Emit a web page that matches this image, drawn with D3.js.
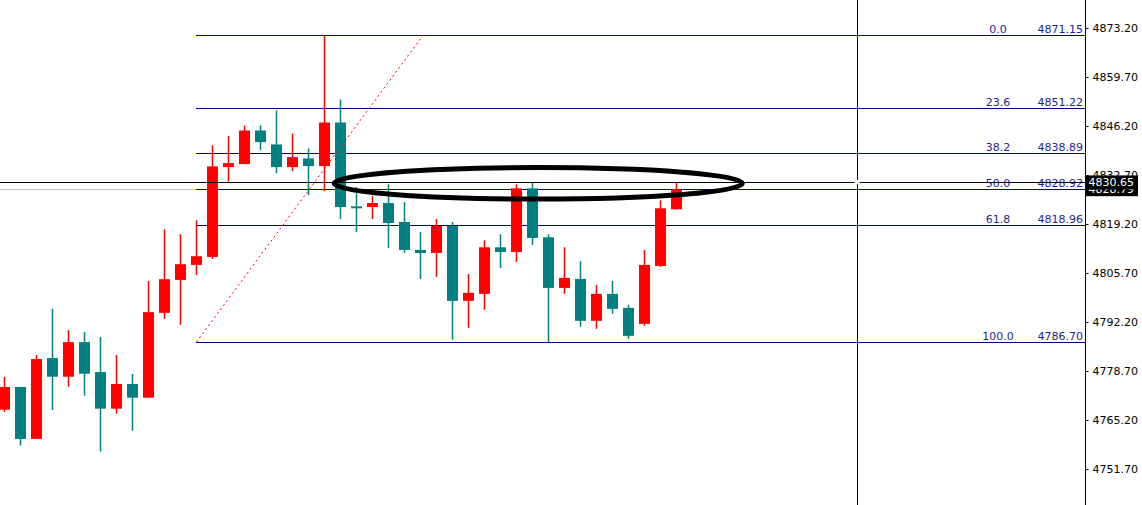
<!DOCTYPE html>
<html>
<head>
<meta charset="utf-8">
<script src="https://cdn.jsdelivr.net/npm/d3@7"></script>
<style>
  body { margin: 0; background: #fff; }
  text { font-family: "DejaVu Sans", Verdana, sans-serif; font-size: 11px; }
</style>
</head>
<body>
<div id="chart"></div>
<script>
// set parameters for SVG
var svgWidth = 1142;
var svgHeight = 505;
var axisX = 1085.5;

// candle data
var opens  = [4768.06, 4774.30, 4760.00, 4782.27, 4777.13, 4786.67, 4778.42, 4768.33, 4775.13, 4771.36,
              4794.73, 4803.80, 4807.93, 4810.13, 4834.87, 4835.70, 4844.96, 4841.11, 4834.87, 4837.26,
              4835.15, 4847.16, 4824.07, 4823.87, 4824.97, 4819.75, 4812.05, 4811.23, 4818.65, 4798.03,
              4799.95, 4812.79, 4811.50, 4829.02, 4815.54, 4801.60, 4804.08, 4792.53, 4799.95, 4796.10,
              4791.70, 4807.65, 4823.24];
var highs  = [4777.05, 4774.30, 4783.10, 4795.83, 4789.97, 4789.42, 4788.05, 4783.10, 4777.87, 4803.45,
              4817.74, 4816.37, 4820.22, 4840.84, 4843.40, 4846.34, 4846.34, 4850.46, 4844.14, 4840.01,
              4871.15, 4853.49, 4829.37, 4826.90, 4830.20, 4825.25, 4817.00, 4820.57, 4819.75, 4805.45,
              4814.72, 4816.37, 4830.12, 4830.67, 4816.37, 4812.79, 4808.94, 4802.43, 4803.53, 4796.93,
              4812.05, 4825.72, 4830.67];
var lows   = [4767.43, 4758.16, 4760.00, 4767.98, 4774.38, 4771.91, 4756.51, 4766.96, 4762.28, 4771.36,
              4793.08, 4791.43, 4805.18, 4809.58, 4830.86, 4835.70, 4839.55, 4833.22, 4833.77, 4827.17,
              4828.27, 4820.57, 4817.00, 4820.57, 4812.60, 4811.23, 4804.08, 4804.63, 4787.31, 4790.61,
              4795.55, 4807.10, 4808.75, 4813.43, 4786.70, 4799.95, 4790.88, 4790.33, 4794.45, 4787.58,
              4791.15, 4807.38, 4823.24];
var closes = [4774.30, 4760.00, 4782.00, 4777.13, 4786.67, 4777.96, 4768.33, 4775.13, 4771.36, 4794.92,
              4804.00, 4808.12, 4810.32, 4835.06, 4835.97, 4844.96, 4841.75, 4834.87, 4837.62, 4835.15,
              4847.16, 4823.87, 4823.79, 4824.97, 4819.48, 4812.05, 4811.23, 4818.65, 4798.03, 4800.23,
              4812.79, 4811.50, 4829.02, 4815.35, 4801.60, 4804.35, 4792.53, 4799.95, 4795.83, 4788.40,
              4807.93, 4823.52, 4828.79];

// fibonacci levels
var fibLevels = ["0.0", "23.6", "38.2", "50.0", "61.8", "100.0"];
var fibValues = [4871.15, 4851.22, 4838.89, 4828.92, 4818.96, 4786.70];
var fibStart = 12;
var fibEnd = 26.16;

// price axis ticks
var yTicks = [4873.20, 4859.70, 4846.20, 4832.70, 4819.20, 4805.70, 4792.20, 4778.70, 4765.20, 4751.70];

// bid line, crosshair and the hand drawn ellipse
var bidPrice = 4828.79;
var crossIndex = 53.3;
var crossPrice = 4830.65;
var ellipseIndex = 33.36, ellipsePrice = 4830.41, ellipseSpanIdx = 12.76, ellipseSpanPrice = 4.35;

var candles = opens.map(function(o, i) {
  return { i: i, open: o, high: highs[i], low: lows[i], close: closes[i] };
});

var svg = d3.select("#chart")
  .append("svg")
  .attr("width", svgWidth)
  .attr("height", svgHeight);

svg.append("rect")
  .attr("width", svgWidth)
  .attr("height", svgHeight)
  .attr("fill", "#fff");

// scales
var xScale = d3.scaleLinear().domain([0, 1]).range([4.5, 20.5]);
var yScale = d3.scaleLinear().domain([4741.8, 4880.9]).range([svgHeight, 0]);

// bid line (grey)
svg.append("line")
  .attr("x1", 0).attr("x2", axisX)
  .attr("y1", Math.round(yScale(bidPrice)) + 0.5)
  .attr("y2", Math.round(yScale(bidPrice)) + 0.5)
  .attr("stroke", "#c0c0c0");

// fib lines
var fibGroup = svg.append("g");
fibValues.forEach(function(v, i) {
  var y = Math.round(yScale(v)) + 0.5;
  fibGroup.append("line")
    .attr("x1", Math.floor(xScale(fibStart))).attr("x2", axisX)
    .attr("y1", y).attr("y2", y)
    .attr("stroke", "#000080");
  fibGroup.append("text")
    .attr("x", 998).attr("y", y - 3)
    .attr("text-anchor", "middle")
    .attr("fill", "#1e1e9a")
    .text(fibLevels[i]);
  fibGroup.append("text")
    .attr("x", 1083).attr("y", y - 3)
    .attr("text-anchor", "end")
    .attr("fill", "#1e1e9a")
    .text(d3.format(".2f")(v));
});

// candles
var cGroup = svg.selectAll(".candle")
  .data(candles)
  .enter()
  .append("g")
  .classed("candle", true);

cGroup.append("rect")
  .attr("x", d => xScale(d.i) - 0.75)
  .attr("width", 1.5)
  .attr("y", d => yScale(d.high))
  .attr("height", d => Math.max(1, yScale(d.low) - yScale(d.high)))
  .attr("fill", d => d.close >= d.open ? "#ff0000" : "#008080");

cGroup.append("rect")
  .attr("x", d => xScale(d.i) - 5.5)
  .attr("width", 11)
  .attr("y", d => yScale(Math.max(d.open, d.close)))
  .attr("height", d => Math.max(2, Math.abs(yScale(d.open) - yScale(d.close))))
  .attr("fill", d => d.close >= d.open ? "#ff0000" : "#008080");

// fib trend line (dotted red)
svg.append("line")
  .attr("x1", xScale(fibStart)).attr("y1", yScale(fibValues[5]))
  .attr("x2", xScale(fibEnd)).attr("y2", yScale(fibValues[0]))
  .attr("stroke", "#ff0000")
  .attr("stroke-dasharray", "2,3");

// crosshair
var cx = Math.round(xScale(crossIndex)) + 0.5;
var cy = Math.round(yScale(crossPrice)) + 0.5;
svg.append("line")
  .attr("x1", cx).attr("x2", cx)
  .attr("y1", 0).attr("y2", svgHeight)
  .attr("stroke", "#000");
svg.append("line")
  .attr("x1", 0).attr("x2", axisX)
  .attr("y1", cy).attr("y2", cy)
  .attr("stroke", "#000");
svg.append("rect")
  .attr("x", cx - 3).attr("y", cy - 2.5)
  .attr("width", 5).attr("height", 4)
  .attr("fill", "#fff");

// ellipse annotation
svg.append("ellipse")
  .attr("cx", xScale(ellipseIndex))
  .attr("cy", yScale(ellipsePrice))
  .attr("rx", xScale(ellipseSpanIdx) - xScale(0))
  .attr("ry", yScale(ellipsePrice - ellipseSpanPrice) - yScale(ellipsePrice))
  .attr("fill", "none")
  .attr("stroke", "#000")
  .attr("stroke-width", 5);

// right price axis
svg.append("rect")
  .attr("x", axisX).attr("y", 0)
  .attr("width", svgWidth - axisX).attr("height", svgHeight)
  .attr("fill", "#fff");

var rightAxis = d3.axisRight(yScale)
  .tickValues(yTicks)
  .tickSize(3)
  .tickPadding(4)
  .tickFormat(d3.format(".2f"));

var yAxis = svg.append("g")
  .attr("transform", `translate(${axisX}, 0)`)
  .call(rightAxis);

yAxis.select(".domain").remove();
yAxis.selectAll("text").attr("fill", "#000").style("font-size", "11px").style("font-family", "DejaVu Sans");
yAxis.selectAll("line").attr("stroke", "#000");

svg.append("line")
  .attr("x1", axisX).attr("x2", axisX)
  .attr("y1", 0).attr("y2", svgHeight)
  .attr("stroke", "#000");

// price labels: bid first, crosshair on top
[bidPrice, crossPrice].forEach(function(p) {
  var y = yScale(p);
  svg.append("rect")
    .attr("x", axisX + 0.5).attr("y", y - 7)
    .attr("width", 52).attr("height", 14)
    .attr("fill", "#000");
  svg.append("text")
    .attr("x", axisX + 3).attr("y", y)
    .attr("dy", "0.35em")
    .attr("fill", "#fff")
    .text(d3.format(".2f")(p));
});
</script>
</body>
</html>
